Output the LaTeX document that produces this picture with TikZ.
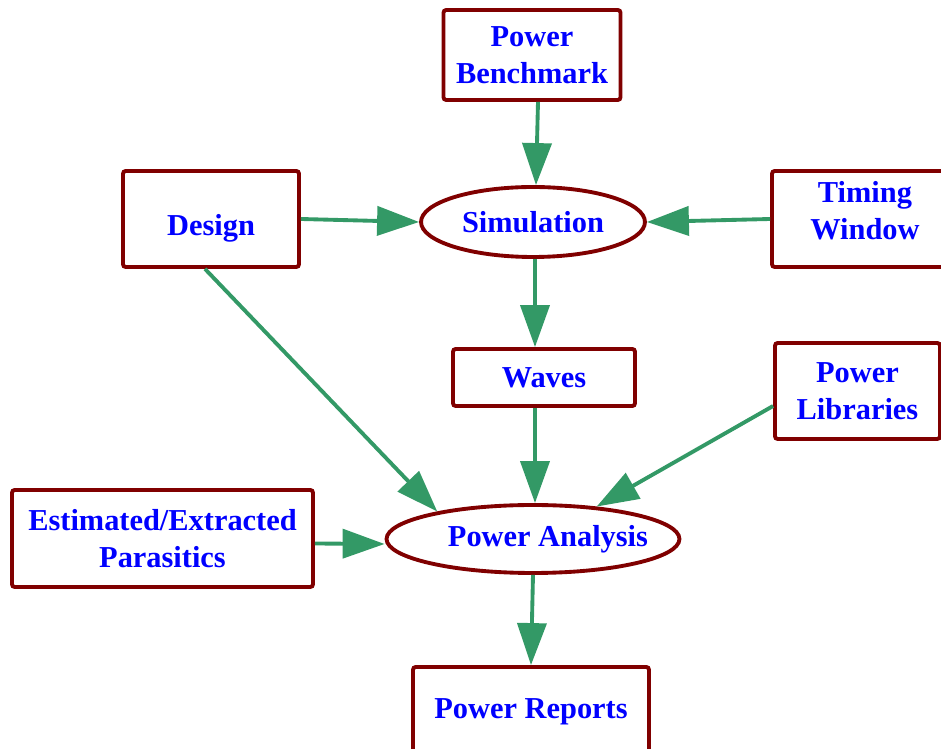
\documentclass[tikz,border=0pt]{standalone}
\usepackage{fontspec}
\setmainfont{Liberation Serif}
\usetikzlibrary{shapes.geometric,arrows.meta}
\definecolor{boxred}{RGB}{128,0,0}
\definecolor{labelblue}{RGB}{0,0,255}
\definecolor{flowgreen}{RGB}{51,153,102}
\tikzset{
  box/.style={draw=boxred, line width=2.2pt, rounded corners=1.5pt, fill=white,
    text=labelblue, font=\bfseries\fontsize{17.3}{21}\selectfont, align=center, inner sep=0pt},
  oval/.style={box, ellipse},
  flow/.style={draw=flowgreen, line width=2.2pt, -{Triangle[length=0.84cm,width=0.58cm]}}
}
\begin{document}
\begin{tikzpicture}[x=0.02cm,y=-0.02cm]
\useasboundingbox (0,0) rectangle (941,749);
% nodes
\node[box, minimum width=3.54cm, minimum height=1.8cm] (bench) at (532,55) {Power\\Benchmark};
\node[oval, minimum width=4.48cm, minimum height=1.4cm] (sim) at (533,222) {Simulation};
\node[box, minimum width=3.52cm, minimum height=1.92cm] (design) at (211,219) {\raisebox{-0.34cm}[0pt][0pt]{Design}};
\node[box, minimum width=3.72cm, minimum height=1.92cm] (timing) at (865,219) {Timing\\Window\\[-0.4cm]};
\node[box, minimum width=3.64cm, minimum height=1.14cm] (waves) at (544,377.5) {Waves};
\node[box, minimum width=3.3cm, minimum height=1.92cm] (libs) at (857.5,391) {Power\\Libraries};
\node[box, minimum width=6.02cm, minimum height=1.94cm] (para) at (162.5,538.5) {Estimated/Extracted\\Parasitics};
\node[oval, minimum width=5.86cm, minimum height=1.36cm] (pa) at (533,539) {\makebox[0pt]{\hspace{0.6cm}Power Analysis}};
\node[box, minimum width=4.72cm, minimum height=1.8cm] (reports) at (531,712) {Power Reports};
% connectors
\draw[flow] ([xshift=0.12cm]bench.south) -- ([xshift=0.06cm]sim.north);
\draw[flow] (design.east) -- (sim.west);
\draw[flow] (timing.west) -- (sim.east);
\draw[flow] ([xshift=0.04cm]sim.south) -- ([xshift=0.04cm]sim.south |- waves.north);
\draw[flow] ([xshift=-0.12cm]design.south) -- (pa.164);
\draw[flow] ([xshift=0.04cm]pa.north |- waves.south) -- ([xshift=0.04cm]pa.north);
\draw[flow] ([yshift=-0.3cm]libs.west) -- (pa.27);
\draw[flow] ([yshift=-0.1cm]para.east) -- ([yshift=-0.1cm]pa.west);
\draw[flow] (pa.south) -- (reports.north);
\end{tikzpicture}
\end{document}
